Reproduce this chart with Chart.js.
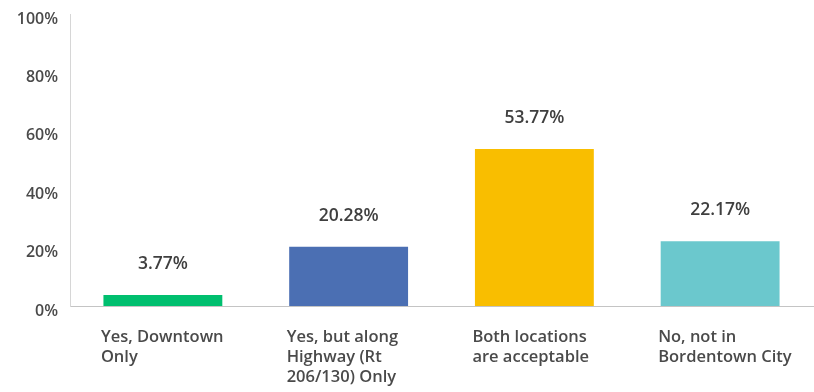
<!DOCTYPE html>
<html>
<head>
<meta charset="utf-8">
<script src="https://cdn.jsdelivr.net/npm/chart.js@4.4.1/dist/chart.umd.min.js"></script>
<style>
  html, body { margin: 0; padding: 0; background: #fff; }
  #wrap { width: 814px; height: 392px; position: relative; }
</style>
</head>
<body>
<div id="wrap"><canvas id="chart"></canvas></div>
<script>
// Data
const categories = [
    ['Yes, Downtown', 'Only'],
    ['Yes, but along', 'Highway (Rt', '206/130) Only'],
    ['Both locations', 'are acceptable'],
    ['No, not in', 'Bordentown City']
];
const values = [3.77, 20.28, 53.77, 22.17];
const barColors = ['#00bf6f', '#4b6fb3', '#f9be00', '#6bc8cd'];
const yTicks = [0, 20, 40, 60, 80, 100];

const FONT = '"Open Sans", Lato, sans-serif';

// Value labels above the bars
const valueLabels = {
    id: 'valueLabels',
    afterDatasetsDraw(chart) {
        const ctx = chart.ctx;
        const meta = chart.getDatasetMeta(0);
        ctx.save();
        ctx.font = '600 17.5px ' + FONT;
        ctx.fillStyle = '#3f3f3f';
        ctx.textAlign = 'center';
        ctx.textBaseline = 'middle';
        meta.data.forEach((bar, i) => {
            ctx.fillText(values[i].toFixed(2) + '%', bar.x, bar.y - 31);
        });
        ctx.restore();
    }
};

new Chart(document.getElementById('chart').getContext('2d'), {
    type: 'bar',
    data: {
        labels: categories,
        datasets: [{
            data: values,
            backgroundColor: barColors,
            barPercentage: 0.64,
            categoryPercentage: 1
        }]
    },
    options: {
        responsive: true,
        maintainAspectRatio: false,
        animation: false,
        layout: { padding: { top: 14, right: 1, left: 0, bottom: 0 } },
        plugins: { legend: { display: false }, tooltip: { enabled: false } },
        scales: {
            x: {
                grid: { display: false },
                border: { display: true, color: '#c4c4c4', width: 1 },
                ticks: {
                    align: 'start',
                    labelOffset: -62,
                    padding: 13,
                    maxRotation: 0,
                    autoSkip: false,
                    color: '#4a4a4a',
                    font: { family: FONT, size: 16.5, weight: '600', lineHeight: 1.21 }
                },
                afterFit(scale) {
                    scale.height = 86;
                    scale.paddingLeft = 0;
                    scale.paddingRight = 0;
                }
            },
            y: {
                min: 0,
                max: 100,
                afterBuildTicks(scale) { scale.ticks = yTicks.map(v => ({ value: v })); },
                grid: { display: false },
                border: { display: true, color: '#d6d6d6', width: 1 },
                ticks: {
                    padding: 4,
                    labelOffset: 5,
                    color: '#4a4a4a',
                    font: { family: FONT, size: 16, weight: '600' },
                    callback: v => v + '%'
                },
                afterFit(scale) {
                    scale.width = 70;
                    scale.paddingTop = 0;
                    scale.paddingBottom = 0;
                }
            }
        }
    },
    plugins: [valueLabels]
});
</script>
</body>
</html>
